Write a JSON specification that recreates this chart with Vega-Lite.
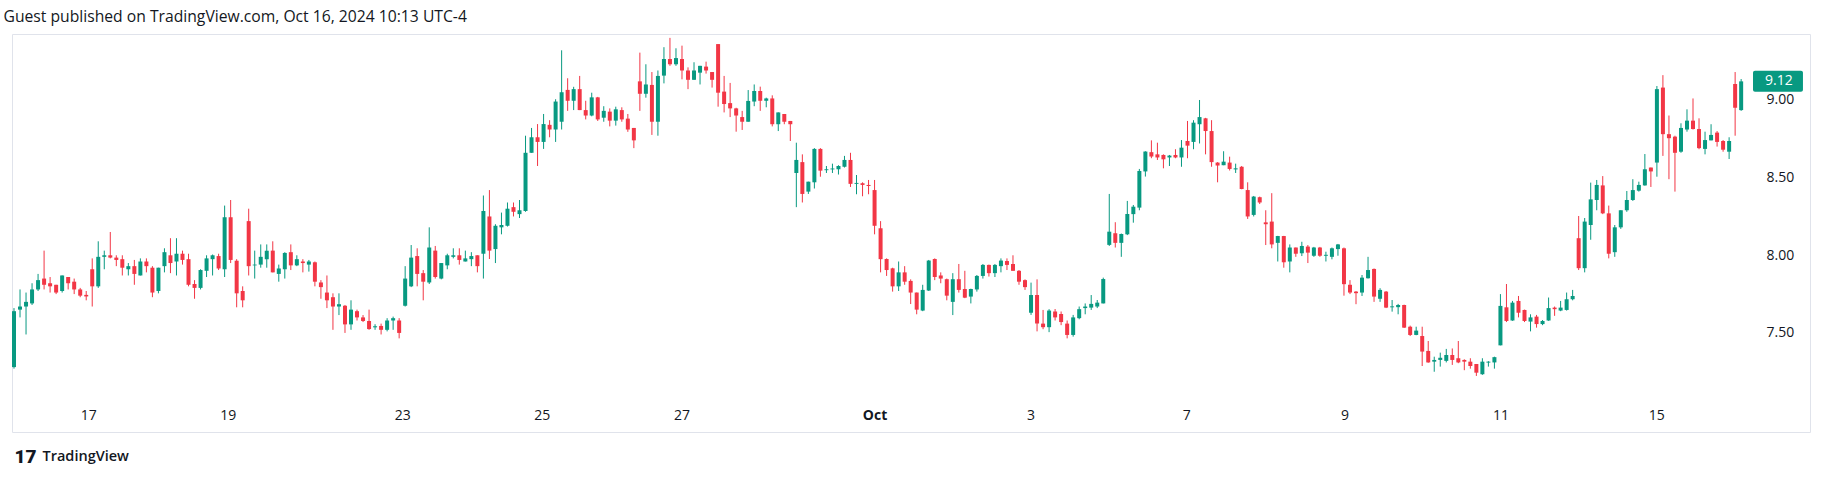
{
"$schema": "https://vega.github.io/schema/vega-lite/v6.json",
"width": 1798,
"height": 398,
"autosize": {"type": "none"},
"padding": {"left": 12, "top": 34, "right": 13, "bottom": 46},
"background": "#ffffff",
"config": {"view": {"stroke": "#e0e3eb", "strokeWidth": 1}},
"title": {"text": "Guest published on TradingView.com, Oct 16, 2024 10:13 UTC-4", "anchor": "start", "orient": "top", "frame": "group", "baseline": "alphabetic", "offset": -4, "dx": -8.5, "font": "Open Sans", "fontSize": 15.7, "fontWeight": "normal", "color": "#131722"},
"data": {"values": [
{"i":1,"o":7.28,"h":7.66,"l":7.27,"c":7.64},
{"i":2,"o":7.65,"h":7.78,"l":7.60,"c":7.67},
{"i":3,"o":7.67,"h":7.76,"l":7.49,"c":7.70},
{"i":4,"o":7.69,"h":7.82,"l":7.68,"c":7.78},
{"i":5,"o":7.78,"h":7.88,"l":7.77,"c":7.84},
{"i":6,"o":7.85,"h":8.03,"l":7.78,"c":7.81},
{"i":7,"o":7.82,"h":7.86,"l":7.76,"c":7.80},
{"i":8,"o":7.81,"h":7.81,"l":7.75,"c":7.76},
{"i":9,"o":7.77,"h":7.87,"l":7.76,"c":7.87},
{"i":10,"o":7.86,"h":7.86,"l":7.78,"c":7.82},
{"i":11,"o":7.83,"h":7.85,"l":7.75,"c":7.78},
{"i":12,"o":7.78,"h":7.79,"l":7.73,"c":7.74},
{"i":13,"o":7.745,"h":7.77,"l":7.71,"c":7.735},
{"i":14,"o":7.91,"h":7.98,"l":7.67,"c":7.80},
{"i":15,"o":7.80,"h":8.09,"l":7.79,"c":7.99},
{"i":16,"o":7.99,"h":8.03,"l":7.91,"c":8.00},
{"i":17,"o":8.00,"h":8.15,"l":7.98,"c":7.985},
{"i":18,"o":7.985,"h":8.00,"l":7.93,"c":7.97},
{"i":19,"o":7.975,"h":8.00,"l":7.87,"c":7.92},
{"i":20,"o":7.91,"h":7.95,"l":7.87,"c":7.93},
{"i":21,"o":7.93,"h":7.97,"l":7.81,"c":7.88},
{"i":22,"o":7.87,"h":7.98,"l":7.87,"c":7.96},
{"i":23,"o":7.96,"h":7.98,"l":7.89,"c":7.93},
{"i":24,"o":7.92,"h":7.93,"l":7.73,"c":7.76},
{"i":25,"o":7.77,"h":7.92,"l":7.755,"c":7.92},
{"i":26,"o":7.93,"h":8.045,"l":7.89,"c":8.02},
{"i":27,"o":8.00,"h":8.11,"l":7.885,"c":7.95},
{"i":28,"o":7.96,"h":8.11,"l":7.87,"c":8.01},
{"i":29,"o":8.01,"h":8.03,"l":7.94,"c":7.97},
{"i":30,"o":7.975,"h":8.01,"l":7.80,"c":7.81},
{"i":31,"o":7.815,"h":7.84,"l":7.72,"c":7.79},
{"i":32,"o":7.79,"h":7.91,"l":7.78,"c":7.905},
{"i":33,"o":7.90,"h":8.00,"l":7.86,"c":7.98},
{"i":34,"o":7.975,"h":8.005,"l":7.87,"c":8.00},
{"i":35,"o":7.995,"h":8.01,"l":7.905,"c":7.915},
{"i":36,"o":7.91,"h":8.32,"l":7.86,"c":8.245},
{"i":37,"o":8.245,"h":8.356,"l":7.95,"c":7.97},
{"i":38,"o":7.965,"h":7.975,"l":7.665,"c":7.755},
{"i":39,"o":7.77,"h":7.80,"l":7.665,"c":7.71},
{"i":40,"o":8.22,"h":8.30,"l":7.87,"c":7.93},
{"i":41,"o":7.935,"h":8.03,"l":7.85,"c":7.94},
{"i":42,"o":7.94,"h":8.07,"l":7.92,"c":7.99},
{"i":43,"o":7.975,"h":8.07,"l":7.92,"c":8.03},
{"i":44,"o":8.03,"h":8.09,"l":7.89,"c":7.89},
{"i":45,"o":7.88,"h":7.94,"l":7.83,"c":7.915},
{"i":46,"o":7.91,"h":8.02,"l":7.85,"c":8.015},
{"i":47,"o":8.02,"h":8.07,"l":7.905,"c":7.935},
{"i":48,"o":7.935,"h":8.00,"l":7.93,"c":7.975},
{"i":49,"o":7.96,"h":7.975,"l":7.89,"c":7.95},
{"i":50,"o":7.94,"h":7.97,"l":7.895,"c":7.96},
{"i":51,"o":7.955,"h":7.96,"l":7.80,"c":7.83},
{"i":52,"o":7.825,"h":7.84,"l":7.72,"c":7.795},
{"i":53,"o":7.76,"h":7.87,"l":7.66,"c":7.71},
{"i":54,"o":7.73,"h":7.755,"l":7.52,"c":7.67},
{"i":55,"o":7.67,"h":7.755,"l":7.615,"c":7.685},
{"i":56,"o":7.675,"h":7.68,"l":7.50,"c":7.555},
{"i":57,"o":7.555,"h":7.71,"l":7.52,"c":7.65},
{"i":58,"o":7.64,"h":7.65,"l":7.58,"c":7.60},
{"i":59,"o":7.60,"h":7.615,"l":7.57,"c":7.577},
{"i":60,"o":7.577,"h":7.65,"l":7.52,"c":7.525},
{"i":61,"o":7.536,"h":7.556,"l":7.52,"c":7.543},
{"i":62,"o":7.545,"h":7.56,"l":7.49,"c":7.52},
{"i":63,"o":7.52,"h":7.595,"l":7.51,"c":7.58},
{"i":64,"o":7.58,"h":7.605,"l":7.52,"c":7.595},
{"i":65,"o":7.58,"h":7.595,"l":7.465,"c":7.50},
{"i":66,"o":7.675,"h":7.93,"l":7.67,"c":7.85},
{"i":67,"o":7.80,"h":8.066,"l":7.795,"c":7.985},
{"i":68,"o":7.995,"h":8.045,"l":7.80,"c":7.88},
{"i":69,"o":7.885,"h":7.905,"l":7.71,"c":7.83},
{"i":70,"o":7.825,"h":8.18,"l":7.815,"c":8.05},
{"i":71,"o":8.03,"h":8.06,"l":7.85,"c":7.86},
{"i":72,"o":7.85,"h":7.95,"l":7.845,"c":7.95},
{"i":73,"o":7.935,"h":8.01,"l":7.91,"c":8.00},
{"i":74,"o":7.99,"h":8.045,"l":7.98,"c":8.00},
{"i":75,"o":8.00,"h":8.045,"l":7.94,"c":7.97},
{"i":76,"o":7.96,"h":8.03,"l":7.96,"c":7.98},
{"i":77,"o":7.975,"h":8.02,"l":7.93,"c":7.995},
{"i":78,"o":8.00,"h":8.00,"l":7.89,"c":7.93},
{"i":79,"o":8.01,"h":8.385,"l":7.85,"c":8.285},
{"i":80,"o":8.25,"h":8.42,"l":7.976,"c":8.03},
{"i":81,"o":8.04,"h":8.20,"l":7.95,"c":8.19},
{"i":82,"o":8.18,"h":8.275,"l":8.135,"c":8.195},
{"i":83,"o":8.19,"h":8.34,"l":8.185,"c":8.30},
{"i":84,"o":8.31,"h":8.34,"l":8.25,"c":8.28},
{"i":85,"o":8.265,"h":8.356,"l":8.24,"c":8.29},
{"i":86,"o":8.285,"h":8.77,"l":8.28,"c":8.66},
{"i":87,"o":8.66,"h":8.82,"l":8.66,"c":8.76},
{"i":88,"o":8.76,"h":8.845,"l":8.575,"c":8.73},
{"i":89,"o":8.73,"h":8.91,"l":8.685,"c":8.845},
{"i":90,"o":8.84,"h":8.87,"l":8.76,"c":8.81},
{"i":91,"o":8.81,"h":9.005,"l":8.73,"c":8.99},
{"i":92,"o":8.86,"h":9.32,"l":8.81,"c":9.05},
{"i":93,"o":9.065,"h":9.14,"l":8.93,"c":8.995},
{"i":94,"o":8.995,"h":9.085,"l":8.935,"c":9.07},
{"i":95,"o":9.07,"h":9.155,"l":8.935,"c":8.935},
{"i":96,"o":8.935,"h":8.995,"l":8.875,"c":8.90},
{"i":97,"o":8.90,"h":9.047,"l":8.895,"c":9.017},
{"i":98,"o":9.017,"h":9.02,"l":8.865,"c":8.875},
{"i":99,"o":8.886,"h":8.96,"l":8.86,"c":8.93},
{"i":100,"o":8.925,"h":8.946,"l":8.83,"c":8.867},
{"i":101,"o":8.867,"h":8.957,"l":8.835,"c":8.94},
{"i":102,"o":8.935,"h":8.953,"l":8.86,"c":8.875},
{"i":103,"o":8.88,"h":8.91,"l":8.795,"c":8.81},
{"i":104,"o":8.82,"h":8.82,"l":8.69,"c":8.74},
{"i":105,"o":9.12,"h":9.305,"l":8.93,"c":9.04},
{"i":106,"o":9.04,"h":9.23,"l":9.015,"c":9.10},
{"i":107,"o":9.097,"h":9.18,"l":8.775,"c":8.86},
{"i":108,"o":8.86,"h":9.19,"l":8.77,"c":9.155},
{"i":109,"o":9.157,"h":9.34,"l":9.107,"c":9.264},
{"i":110,"o":9.264,"h":9.40,"l":9.22,"c":9.23},
{"i":111,"o":9.23,"h":9.333,"l":9.22,"c":9.27},
{"i":112,"o":9.264,"h":9.35,"l":9.133,"c":9.19},
{"i":113,"o":9.19,"h":9.21,"l":9.07,"c":9.13},
{"i":114,"o":9.13,"h":9.243,"l":9.13,"c":9.19},
{"i":115,"o":9.176,"h":9.22,"l":9.10,"c":9.22},
{"i":116,"o":9.215,"h":9.247,"l":9.17,"c":9.19},
{"i":117,"o":9.18,"h":9.18,"l":9.08,"c":9.13},
{"i":118,"o":9.36,"h":9.36,"l":8.957,"c":9.047},
{"i":119,"o":9.054,"h":9.155,"l":8.92,"c":8.974},
{"i":120,"o":8.98,"h":9.11,"l":8.89,"c":8.946},
{"i":121,"o":8.946,"h":8.95,"l":8.796,"c":8.90},
{"i":122,"o":8.89,"h":8.93,"l":8.807,"c":8.86},
{"i":123,"o":8.86,"h":9.064,"l":8.86,"c":8.994},
{"i":124,"o":8.99,"h":9.10,"l":8.96,"c":9.058},
{"i":125,"o":9.058,"h":9.086,"l":8.93,"c":8.995},
{"i":126,"o":8.995,"h":9.015,"l":8.953,"c":9.01},
{"i":127,"o":9.01,"h":9.03,"l":8.83,"c":8.844},
{"i":128,"o":8.844,"h":8.92,"l":8.80,"c":8.92},
{"i":129,"o":8.91,"h":8.91,"l":8.844,"c":8.86},
{"i":130,"o":8.865,"h":8.865,"l":8.736,"c":8.844},
{"i":131,"o":8.53,"h":8.725,"l":8.31,"c":8.614},
{"i":132,"o":8.60,"h":8.65,"l":8.34,"c":8.395},
{"i":133,"o":8.41,"h":8.474,"l":8.395,"c":8.474},
{"i":134,"o":8.47,"h":8.69,"l":8.43,"c":8.685},
{"i":135,"o":8.685,"h":8.69,"l":8.506,"c":8.545},
{"i":136,"o":8.548,"h":8.575,"l":8.53,"c":8.554},
{"i":137,"o":8.553,"h":8.59,"l":8.53,"c":8.559},
{"i":138,"o":8.554,"h":8.58,"l":8.52,"c":8.575},
{"i":139,"o":8.57,"h":8.64,"l":8.565,"c":8.614},
{"i":140,"o":8.614,"h":8.66,"l":8.44,"c":8.46},
{"i":141,"o":8.46,"h":8.517,"l":8.393,"c":8.466},
{"i":142,"o":8.464,"h":8.47,"l":8.38,"c":8.453},
{"i":143,"o":8.453,"h":8.485,"l":8.393,"c":8.446},
{"i":144,"o":8.42,"h":8.485,"l":8.135,"c":8.19},
{"i":145,"o":8.174,"h":8.22,"l":7.89,"c":7.975},
{"i":146,"o":7.976,"h":7.98,"l":7.867,"c":7.905},
{"i":147,"o":7.916,"h":7.92,"l":7.766,"c":7.80},
{"i":148,"o":7.80,"h":7.96,"l":7.77,"c":7.89},
{"i":149,"o":7.89,"h":7.93,"l":7.81,"c":7.83},
{"i":150,"o":7.835,"h":7.845,"l":7.686,"c":7.76},
{"i":151,"o":7.76,"h":7.76,"l":7.62,"c":7.65},
{"i":152,"o":7.644,"h":7.81,"l":7.64,"c":7.777},
{"i":153,"o":7.773,"h":7.97,"l":7.77,"c":7.966},
{"i":154,"o":7.976,"h":7.98,"l":7.84,"c":7.86},
{"i":155,"o":7.87,"h":7.89,"l":7.82,"c":7.85},
{"i":156,"o":7.846,"h":7.85,"l":7.71,"c":7.74},
{"i":157,"o":7.70,"h":7.885,"l":7.615,"c":7.846},
{"i":158,"o":7.846,"h":7.944,"l":7.76,"c":7.777},
{"i":159,"o":7.783,"h":7.90,"l":7.724,"c":7.727},
{"i":160,"o":7.734,"h":7.785,"l":7.69,"c":7.783},
{"i":161,"o":7.78,"h":7.873,"l":7.766,"c":7.867},
{"i":162,"o":7.867,"h":7.944,"l":7.85,"c":7.938},
{"i":163,"o":7.938,"h":7.94,"l":7.863,"c":7.885},
{"i":164,"o":7.885,"h":7.944,"l":7.86,"c":7.938},
{"i":165,"o":7.93,"h":7.98,"l":7.89,"c":7.966},
{"i":166,"o":7.963,"h":7.98,"l":7.905,"c":7.938},
{"i":167,"o":7.944,"h":8.00,"l":7.90,"c":7.90},
{"i":168,"o":7.90,"h":7.905,"l":7.81,"c":7.83},
{"i":169,"o":7.84,"h":7.845,"l":7.777,"c":7.795},
{"i":170,"o":7.63,"h":7.824,"l":7.616,"c":7.744},
{"i":171,"o":7.744,"h":7.845,"l":7.51,"c":7.56},
{"i":172,"o":7.56,"h":7.648,"l":7.524,"c":7.537},
{"i":173,"o":7.537,"h":7.653,"l":7.505,"c":7.644},
{"i":174,"o":7.638,"h":7.654,"l":7.58,"c":7.60},
{"i":175,"o":7.622,"h":7.638,"l":7.55,"c":7.57},
{"i":176,"o":7.56,"h":7.58,"l":7.465,"c":7.487},
{"i":177,"o":7.487,"h":7.616,"l":7.476,"c":7.60},
{"i":178,"o":7.595,"h":7.67,"l":7.588,"c":7.653},
{"i":179,"o":7.66,"h":7.69,"l":7.62,"c":7.67},
{"i":180,"o":7.663,"h":7.744,"l":7.648,"c":7.687},
{"i":181,"o":7.67,"h":7.712,"l":7.66,"c":7.695},
{"i":182,"o":7.69,"h":7.856,"l":7.69,"c":7.847},
{"i":183,"o":8.067,"h":8.395,"l":8.06,"c":8.152},
{"i":184,"o":8.142,"h":8.213,"l":8.05,"c":8.08},
{"i":185,"o":8.08,"h":8.14,"l":7.99,"c":8.137},
{"i":186,"o":8.135,"h":8.35,"l":8.13,"c":8.266},
{"i":187,"o":8.265,"h":8.324,"l":8.21,"c":8.313},
{"i":188,"o":8.307,"h":8.556,"l":8.29,"c":8.543},
{"i":189,"o":8.54,"h":8.67,"l":8.507,"c":8.668},
{"i":190,"o":8.664,"h":8.74,"l":8.625,"c":8.636},
{"i":191,"o":8.65,"h":8.725,"l":8.614,"c":8.63},
{"i":192,"o":8.646,"h":8.65,"l":8.56,"c":8.618},
{"i":193,"o":8.63,"h":8.646,"l":8.575,"c":8.642},
{"i":194,"o":8.646,"h":8.683,"l":8.625,"c":8.63},
{"i":195,"o":8.63,"h":8.742,"l":8.57,"c":8.693},
{"i":196,"o":8.736,"h":8.865,"l":8.625,"c":8.706},
{"i":197,"o":8.73,"h":8.87,"l":8.683,"c":8.854},
{"i":198,"o":8.844,"h":9.00,"l":8.72,"c":8.89},
{"i":199,"o":8.882,"h":8.885,"l":8.65,"c":8.80},
{"i":200,"o":8.80,"h":8.87,"l":8.57,"c":8.60},
{"i":201,"o":8.597,"h":8.60,"l":8.47,"c":8.578},
{"i":202,"o":8.58,"h":8.67,"l":8.58,"c":8.603},
{"i":203,"o":8.597,"h":8.635,"l":8.546,"c":8.556},
{"i":204,"o":8.553,"h":8.59,"l":8.53,"c":8.56},
{"i":205,"o":8.57,"h":8.575,"l":8.425,"c":8.427},
{"i":206,"o":8.42,"h":8.47,"l":8.234,"c":8.25},
{"i":207,"o":8.26,"h":8.382,"l":8.25,"c":8.378},
{"i":208,"o":8.374,"h":8.378,"l":8.33,"c":8.34},
{"i":209,"o":8.212,"h":8.29,"l":8.066,"c":8.20},
{"i":210,"o":8.217,"h":8.40,"l":8.045,"c":8.07},
{"i":211,"o":8.08,"h":8.125,"l":7.96,"c":8.124},
{"i":212,"o":8.124,"h":8.125,"l":7.92,"c":7.955},
{"i":213,"o":7.96,"h":8.07,"l":7.89,"c":8.05},
{"i":214,"o":8.05,"h":8.05,"l":7.99,"c":8.01},
{"i":215,"o":8.013,"h":8.087,"l":7.995,"c":8.06},
{"i":216,"o":8.056,"h":8.066,"l":7.95,"c":8.017},
{"i":217,"o":7.997,"h":8.054,"l":7.99,"c":8.05},
{"i":218,"o":8.05,"h":8.054,"l":7.99,"c":7.997},
{"i":219,"o":7.997,"h":8.023,"l":7.96,"c":8.003},
{"i":220,"o":7.99,"h":8.05,"l":7.974,"c":8.045},
{"i":221,"o":8.04,"h":8.073,"l":7.997,"c":8.07},
{"i":222,"o":8.045,"h":8.05,"l":7.74,"c":7.814},
{"i":223,"o":7.81,"h":7.84,"l":7.75,"c":7.76},
{"i":224,"o":7.766,"h":7.77,"l":7.685,"c":7.756},
{"i":225,"o":7.76,"h":7.873,"l":7.738,"c":7.856},
{"i":226,"o":7.852,"h":7.99,"l":7.85,"c":7.905},
{"i":227,"o":7.912,"h":7.915,"l":7.70,"c":7.734},
{"i":228,"o":7.72,"h":7.788,"l":7.70,"c":7.777},
{"i":229,"o":7.766,"h":7.77,"l":7.66,"c":7.663},
{"i":230,"o":7.665,"h":7.712,"l":7.637,"c":7.671},
{"i":231,"o":7.666,"h":7.687,"l":7.62,"c":7.68},
{"i":232,"o":7.68,"h":7.682,"l":7.532,"c":7.534},
{"i":233,"o":7.54,"h":7.547,"l":7.48,"c":7.487},
{"i":234,"o":7.487,"h":7.54,"l":7.485,"c":7.515},
{"i":235,"o":7.48,"h":7.54,"l":7.287,"c":7.38},
{"i":236,"o":7.384,"h":7.448,"l":7.308,"c":7.31},
{"i":237,"o":7.315,"h":7.347,"l":7.25,"c":7.326},
{"i":238,"o":7.326,"h":7.373,"l":7.283,"c":7.34},
{"i":239,"o":7.32,"h":7.397,"l":7.31,"c":7.358},
{"i":240,"o":7.358,"h":7.40,"l":7.294,"c":7.326},
{"i":241,"o":7.337,"h":7.448,"l":7.305,"c":7.31},
{"i":242,"o":7.326,"h":7.33,"l":7.26,"c":7.315},
{"i":243,"o":7.315,"h":7.337,"l":7.27,"c":7.287},
{"i":244,"o":7.30,"h":7.30,"l":7.223,"c":7.244},
{"i":245,"o":7.234,"h":7.337,"l":7.23,"c":7.315},
{"i":246,"o":7.309,"h":7.318,"l":7.283,"c":7.315},
{"i":247,"o":7.31,"h":7.347,"l":7.27,"c":7.344},
{"i":248,"o":7.42,"h":7.75,"l":7.42,"c":7.674},
{"i":249,"o":7.665,"h":7.815,"l":7.57,"c":7.577},
{"i":250,"o":7.58,"h":7.706,"l":7.578,"c":7.695},
{"i":251,"o":7.706,"h":7.738,"l":7.60,"c":7.63},
{"i":252,"o":7.648,"h":7.65,"l":7.57,"c":7.577},
{"i":253,"o":7.573,"h":7.62,"l":7.51,"c":7.60},
{"i":254,"o":7.605,"h":7.616,"l":7.534,"c":7.557},
{"i":255,"o":7.557,"h":7.583,"l":7.55,"c":7.577},
{"i":256,"o":7.58,"h":7.728,"l":7.578,"c":7.66},
{"i":257,"o":7.663,"h":7.67,"l":7.61,"c":7.653},
{"i":258,"o":7.644,"h":7.706,"l":7.64,"c":7.663},
{"i":259,"o":7.648,"h":7.76,"l":7.644,"c":7.717},
{"i":260,"o":7.717,"h":7.777,"l":7.71,"c":7.738},
{"i":261,"o":8.11,"h":8.253,"l":7.905,"c":7.917},
{"i":262,"o":7.917,"h":8.24,"l":7.89,"c":8.217},
{"i":263,"o":8.195,"h":8.468,"l":8.10,"c":8.36},
{"i":264,"o":8.356,"h":8.485,"l":8.29,"c":8.453},
{"i":265,"o":8.45,"h":8.51,"l":8.265,"c":8.27},
{"i":266,"o":8.27,"h":8.32,"l":7.98,"c":8.01},
{"i":267,"o":8.02,"h":8.195,"l":7.99,"c":8.18},
{"i":268,"o":8.18,"h":8.29,"l":8.17,"c":8.29},
{"i":269,"o":8.29,"h":8.414,"l":8.28,"c":8.356},
{"i":270,"o":8.356,"h":8.49,"l":8.35,"c":8.42},
{"i":271,"o":8.416,"h":8.474,"l":8.41,"c":8.453},
{"i":272,"o":8.45,"h":8.652,"l":8.448,"c":8.554},
{"i":273,"o":8.565,"h":8.565,"l":8.44,"c":8.54},
{"i":274,"o":8.597,"h":9.09,"l":8.506,"c":9.07},
{"i":275,"o":9.08,"h":9.16,"l":8.64,"c":8.78},
{"i":276,"o":8.78,"h":8.90,"l":8.49,"c":8.754},
{"i":277,"o":8.764,"h":8.77,"l":8.41,"c":8.66},
{"i":278,"o":8.667,"h":8.85,"l":8.66,"c":8.82},
{"i":279,"o":8.81,"h":8.94,"l":8.796,"c":8.867},
{"i":280,"o":8.867,"h":9.01,"l":8.81,"c":8.813},
{"i":281,"o":8.813,"h":8.882,"l":8.683,"c":8.69},
{"i":282,"o":8.685,"h":8.796,"l":8.65,"c":8.742},
{"i":283,"o":8.74,"h":8.844,"l":8.74,"c":8.775},
{"i":284,"o":8.79,"h":8.80,"l":8.70,"c":8.73},
{"i":285,"o":8.736,"h":8.742,"l":8.667,"c":8.68},
{"i":286,"o":8.667,"h":8.76,"l":8.62,"c":8.736},
{"i":287,"o":9.103,"h":9.18,"l":8.77,"c":8.95},
{"i":288,"o":8.935,"h":9.135,"l":8.93,"c":9.12}
]},
"layer": [
{
"mark": {"type": "rule", "clip": true, "strokeWidth": 1},
"encoding": {
"x": {"field": "i", "type": "quantitative",
 "scale": {"domain": [0.668, 299.44], "nice": false, "zero": false, "padding": 0},
 "axis": {"values": [13.35, 36.5, 65.5, 88.7, 111.9, 144, 169.9, 195.8, 222.1, 248, 273.9],
  "labelExpr": "['17','19','23','25','27','Oct','3','7','9','11','15'][indexof([13.35,36.5,65.5,88.7,111.9,144,169.9,195.8,222.1,248,273.9], datum.value)]",
  "labelFontWeight": {"condition": {"test": "datum.value == 144", "value": "bold"}, "value": "normal"},
  "orient": "bottom", "offset": -17, "grid": false, "domain": false, "ticks": false, "tickSize": 0,
  "labelPadding": 0, "labelBaseline": "middle", "labelFlush": false, "labelOverlap": false,
  "labelFont": "Open Sans", "labelFontSize": 14, "labelColor": "#131722",
  "title": "TradingView", "titleX": 30, "titleY": 41, "titleAlign": "left", "titleBaseline": "middle",
  "titleFont": "Open Sans", "titleFontSize": 14.5, "titleFontWeight": 600, "titleColor": "#131722"}},
"y": {"field": "l", "type": "quantitative",
 "scale": {"domain": [6.862, 9.425], "nice": false, "zero": false, "padding": 0},
 "axis": {"values": [7.5, 8, 8.5, 9], "format": ".2f", "orient": "right", "offset": -44,
  "grid": false, "domain": false, "ticks": false, "tickSize": 0, "labelPadding": 0,
  "labelAlign": "left", "labelBaseline": "middle",
  "labelFont": "Open Sans", "labelFontSize": 14, "labelColor": "#131722",
  "title": "17", "titleAngle": 0, "titleX": -1752, "titleY": 422, "titleAlign": "left", "titleBaseline": "middle",
  "titleFont": "Roboto", "titleFontSize": 19, "titleFontWeight": 900, "titleColor": "#131722"}},
"y2": {"field": "h"},
"color": {"condition": {"test": "datum.c >= datum.o", "value": "#089981"}, "value": "#f23645"}
}
},
{
"mark": {"type": "bar", "clip": true, "size": 4},
"encoding": {
"x": {"field": "i", "type": "quantitative"},
"y": {"field": "o", "type": "quantitative"},
"y2": {"field": "c"},
"color": {"condition": {"test": "datum.c >= datum.o", "value": "#089981"}, "value": "#f23645"}
}
},
{
"transform": [{"filter": "datum.i == 288"}],
"mark": {"type": "bar", "orient": "horizontal", "size": 21, "cornerRadius": 2, "color": "#089981"},
"encoding": {
"x": {"datum": 289.97, "type": "quantitative"},
"x2": {"datum": 298.27},
"y": {"field": "c", "type": "quantitative"}
}
},
{
"transform": [{"filter": "datum.i == 288"}],
"mark": {"type": "text", "align": "left", "baseline": "middle", "font": "Open Sans", "fontSize": 14, "color": "#ffffff"},
"encoding": {
"x": {"datum": 291.96, "type": "quantitative"},
"y": {"field": "c", "type": "quantitative"},
"text": {"field": "c", "type": "quantitative", "format": ".2f"}
}
}
]
}
